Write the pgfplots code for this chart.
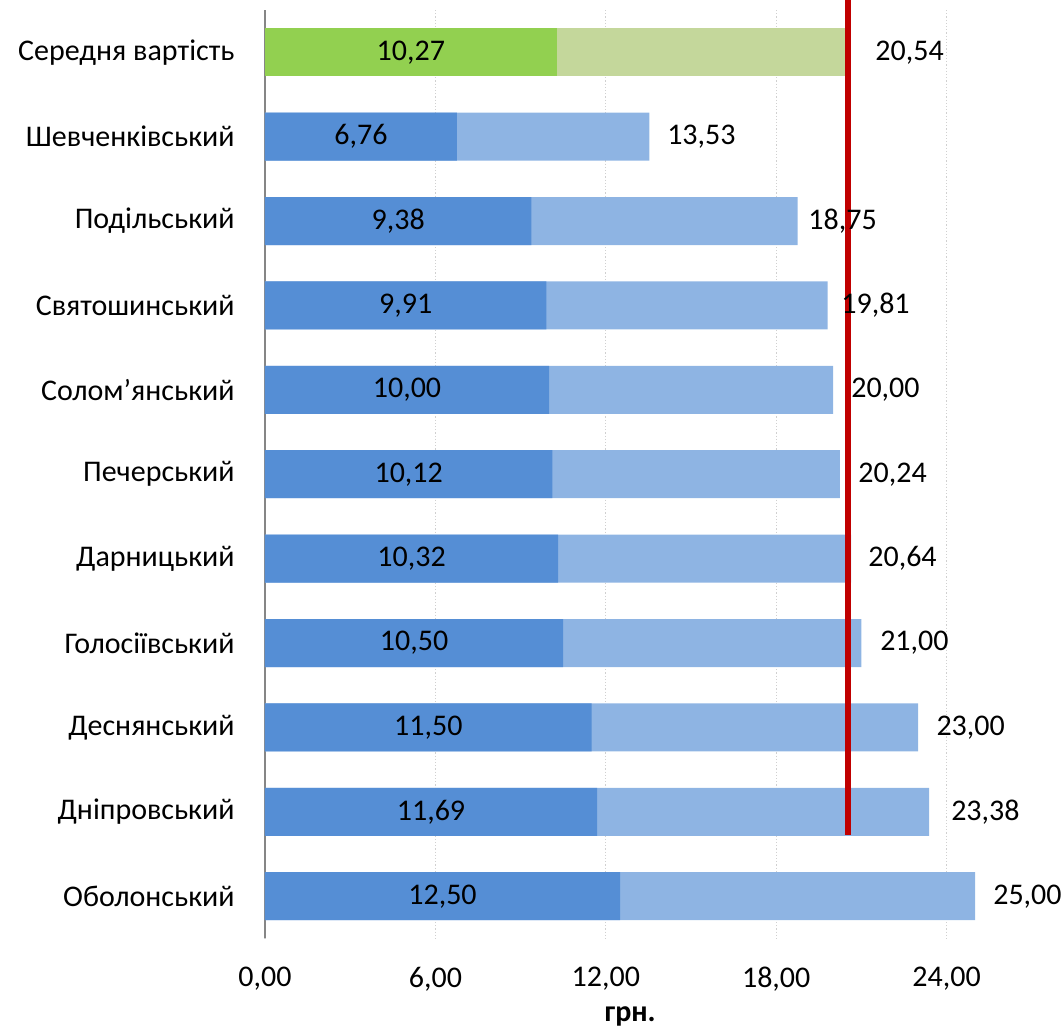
\documentclass[border=0pt]{standalone}
\usepackage{fontspec}
\setmainfont{Carlito}
\usepackage{pgfplots}
\pgfplotsset{compat=1.18}
\definecolor{grnDark}{HTML}{92D050}
\definecolor{grnLight}{HTML}{C4D79B}
\definecolor{bluDark}{HTML}{558ED5}
\definecolor{bluLight}{HTML}{8EB4E3}
\definecolor{avgRed}{HTML}{C00000}
\definecolor{axisGray}{HTML}{868686}
\definecolor{gridGray}{HTML}{D0D0D0}

\begin{document}
\begin{tikzpicture}
  \fontsize{15}{18}\selectfont
  \begin{axis}[
      name=ax, scale only axis,
      width=400.44pt, height=464.2pt,
      xmin=0, xmax=28.2, ymin=-0.5, ymax=10.5, y dir=reverse,
      clip=false,
      axis y line*=left, axis x line*=bottom,
      x axis line style={draw=none},
      y axis line style={draw=axisGray, line width=1pt},
      major tick length=0pt,
      xtick={0,6,12,18,24},
      xmajorgrids, grid style={gridGray, line width=0.6pt, densely dotted},
      ytick={0,...,10},
      yticklabels={Середня вартість, Шевченківський, Подільський,
        Святошинський, Солом’янський, Печерський, Дарницький,
        Голосіївський, Деснянський, Дніпровський, Оболонський},
      tick label style={font=\fontsize{15}{18}\selectfont},
      xticklabel style={yshift=-9pt, /pgf/number format/.cd, fixed,
        fixed zerofill, precision=2, use comma, assume math mode=true},
      yticklabel style={xshift=-10pt},
      xlabel={\bfseries грн.},
      xlabel style={font=\fontsize{15}{18}\selectfont,
        at={(axis description cs:0.456,0)}, anchor=north, yshift=-29pt},
    ]
    % full bars (total)
    \addplot[xbar, bar width=24pt, bar shift=0pt, draw=none, fill=bluLight]
      coordinates {(13.53,1) (18.75,2) (19.81,3) (20.00,4) (20.24,5)
        (20.64,6) (21.00,7) (23.00,8) (23.38,9) (25.00,10)};
    \addplot[xbar, bar width=24pt, bar shift=0pt, draw=none, fill=grnLight]
      coordinates {(20.54,0)};
    % half bars
    \addplot[xbar, bar width=24pt, bar shift=0pt, draw=none, fill=bluDark]
      coordinates {(6.76,1) (9.38,2) (9.91,3) (10.00,4) (10.12,5)
        (10.32,6) (10.50,7) (11.50,8) (11.69,9) (12.50,10)};
    \addplot[xbar, bar width=24pt, bar shift=0pt, draw=none, fill=grnDark]
      coordinates {(10.27,0)};

    % labels inside the dark part
    \addplot[only marks, mark size=0pt, mark options={draw=none, fill=none},
        nodes near coords, point meta=explicit symbolic,
        nodes near coords align={center},
        every node near coord/.append style={text=black, anchor=center,
          font=\fontsize{15}{18}\selectfont}]
      table[x=x, y=y, meta=lab] {
        x     y  lab
        5.135 0  10,27
        3.38  1  6,76
        4.69  2  9,38
        4.955 3  9,91
        5.00  4  10,00
        5.06  5  10,12
        5.16  6  10,32
        5.25  7  10,50
        5.75  8  11,50
        5.845 9  11,69
        6.25  10 12,50
      };
    % labels of the totals
    \addplot[only marks, mark size=0pt, mark options={draw=none, fill=none},
        nodes near coords, point meta=explicit symbolic,
        nodes near coords align={center},
        every node near coord/.append style={text=black, anchor=west,
          inner sep=0pt, font=\fontsize{15}{18}\selectfont}]
      table[x=x, y=y, meta=lab] {
        x     y  lab
        21.48 0  20,54
        14.15 1  13,53
        19.12 2  18,75
        20.28 3  19,81
        20.63 4  20,00
        20.88 5  20,24
        21.23 6  20,64
        21.65 7  21,00
        23.63 8  23,00
        24.15 9  23,38
        25.63 10 25,00
      };
    % average line
    \addplot[avgRed, line width=3pt] coordinates {(20.54,-0.62) (20.54,9.28)};
  \end{axis}
  \pgfresetboundingbox
  \path ([shift={(-132.5pt,5pt)}]ax.north west) rectangle ++(532pt,-515pt);
\end{tikzpicture}
\end{document}
